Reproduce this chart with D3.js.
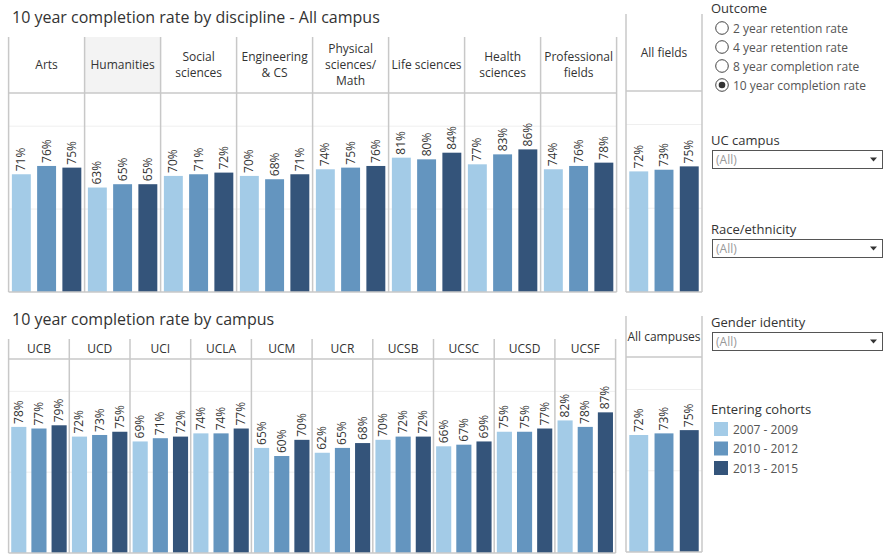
<html>
<head>
<script src="https://cdn.jsdelivr.net/npm/d3@7"></script>
<style>
body { margin: 0; background: #fff; }
text { font-family: "Open Sans", Lato, sans-serif; }
</style>
</head>
<body>
<svg></svg>
<script>

var width = 894;
var height = 557;

// data
var cohorts = ["2007 - 2009", "2010 - 2012", "2013 - 2015"];
var colors = ["#a3cbe7", "#6495bf", "#34547a"];

var disciplines = ["Arts", "Humanities", "Social sciences", "Engineering & CS", "Physical sciences/ Math", "Life sciences", "Health sciences", "Professional fields"];
var disciplineLines = [["Arts"], ["Humanities"], ["Social", "sciences"], ["Engineering", "& CS"], ["Physical", "sciences/", "Math"], ["Life sciences"], ["Health", "sciences"], ["Professional", "fields"]];
var disc0709 = [71, 63, 70, 70, 74, 81, 77, 74];
var disc1012 = [76, 65, 71, 68, 75, 80, 83, 76];
var disc1315 = [75, 65, 72, 71, 76, 84, 86, 78];
var allFields = [72, 73, 75];

var campuses = ["UCB", "UCD", "UCI", "UCLA", "UCM", "UCR", "UCSB", "UCSC", "UCSD", "UCSF"];
var camp0709 = [78, 72, 69, 74, 65, 62, 70, 66, 75, 82];
var camp1012 = [77, 73, 71, 74, 60, 65, 72, 67, 75, 78];
var camp1315 = [79, 75, 72, 77, 70, 68, 72, 69, 77, 87];
var allCampuses = [72, 73, 75];

var outcomes = ["2 year retention rate", "4 year retention rate", "8 year completion rate", "10 year completion rate"];
var filters = ["UC campus", "Race/ethnicity", "Gender identity"];

var lineColor = "#c8c8c8";
var gridColor = "#efefef";

var svg = d3.select("svg").attr("width", width).attr("height", height);

function rows(names, a, b, c) {
	return names.map(function(n, i) {
		return {name: n, values: [a[i], b[i], c[i]]};
	});
}

// draws one row of panels with header, bars and labels
function drawPanels(opt) {
	var g = svg.append("g");
	var x = d3.scaleBand().domain(opt.data.map(function(d) { return d.name; })).range(opt.xRange);
	var xi = d3.scaleBand().domain(cohorts).range([0, x.bandwidth()]).paddingInner(0.25).paddingOuter(0.13);
	var y = d3.scaleLinear().domain([0, 1.2]).range([opt.bottom, opt.headerBottom]);

	// gridlines
	g.selectAll(".grid").data([0.5, 1.0]).enter().append("line")
		.attr("x1", opt.xRange[0]).attr("x2", opt.xRange[1])
		.attr("y1", function(d) { return y(d); }).attr("y2", function(d) { return y(d); })
		.attr("stroke", gridColor).attr("stroke-width", 1);

	if (opt.highlight) {
		g.append("rect")
			.attr("x", x(opt.highlight)).attr("y", opt.top)
			.attr("width", x.bandwidth()).attr("height", opt.headerBottom - opt.top)
			.attr("fill", "#f3f3f3");
	}

	var panel = g.selectAll(".panel").data(opt.data).enter().append("g")
		.attr("transform", function(d) { return "translate(" + x(d.name) + ",0)"; });

	panel.selectAll("rect").data(function(d) { return d.values; }).enter().append("rect")
		.attr("x", function(d, i) { return xi(cohorts[i]); })
		.attr("y", function(d) { return y(d / 100); })
		.attr("width", xi.bandwidth())
		.attr("height", function(d) { return y(0) - y(d / 100); })
		.attr("fill", function(d, i) { return colors[i]; });

	panel.selectAll(".lbl").data(function(d) { return d.values; }).enter().append("text")
		.attr("transform", function(d, i) {
			return "translate(" + (xi(cohorts[i]) + xi.bandwidth() / 2 + 4) + "," + (y(d / 100) - 3) + ") rotate(-90)";
		})
		.attr("font-size", 12).attr("fill", "#333")
		.text(function(d) { return d + "%"; });

	// header labels
	panel.each(function(d, i) {
		var lines = opt.lines ? opt.lines[i] : [d.name];
		var cy = (opt.top + opt.headerBottom) / 2;
		var lh = 16;
		d3.select(this).selectAll(".hdr").data(lines).enter().append("text")
			.attr("x", x.bandwidth() / 2)
			.attr("y", function(t, j) { return cy + (j - (lines.length - 1) / 2) * lh + 4; })
			.attr("text-anchor", "middle").attr("font-size", 12).attr("fill", "#333")
			.text(function(t) { return t; });
	});

	// frame lines
	var edges = x.domain().map(function(n) { return x(n); }).concat([opt.xRange[1]]);
	g.selectAll(".sep").data(edges).enter().append("line")
		.attr("x1", function(d) { return d; }).attr("x2", function(d) { return d; })
		.attr("y1", opt.top).attr("y2", opt.bottom)
		.attr("stroke", lineColor).attr("stroke-width", 1.5);
	g.append("line").attr("x1", opt.xRange[0]).attr("x2", opt.xRange[1])
		.attr("y1", opt.headerBottom).attr("y2", opt.headerBottom)
		.attr("stroke", lineColor).attr("stroke-width", 1.5);
	g.append("line").attr("x1", opt.xRange[0]).attr("x2", opt.xRange[1])
		.attr("y1", opt.bottom).attr("y2", opt.bottom)
		.attr("stroke", lineColor).attr("stroke-width", 1.5);
}

// titles
svg.append("text").attr("x", 12).attr("y", 23).attr("font-size", 16).attr("fill", "#333")
	.text("10 year completion rate by discipline - All campus");
svg.append("text").attr("x", 12).attr("y", 325).attr("font-size", 16).attr("fill", "#333")
	.text("10 year completion rate by campus");

drawPanels({data: rows(disciplines, disc0709, disc1012, disc1315), lines: disciplineLines,
	xRange: [8.6, 616.6], top: 37, headerBottom: 93, bottom: 292, highlight: "Humanities"});
drawPanels({data: [{name: "All fields", values: allFields}],
	xRange: [626, 702], top: 14, headerBottom: 91, bottom: 292});

drawPanels({data: rows(campuses, camp0709, camp1012, camp1315),
	xRange: [8.6, 615.6], top: 339, headerBottom: 359, bottom: 553});
drawPanels({data: [{name: "All campuses", values: allCampuses}],
	xRange: [626, 702], top: 316, headerBottom: 357, bottom: 552});

// right side controls
var side = svg.append("g");
side.append("text").attr("x", 711).attr("y", 13).attr("font-size", 13).attr("fill", "#333").text("Outcome");
var radio = side.selectAll(".radio").data(outcomes).enter().append("g")
	.attr("transform", function(d, i) { return "translate(722," + (28 + i * 19) + ")"; });
radio.append("circle").attr("r", 6.3).attr("fill", "#fff").attr("stroke", "#444").attr("stroke-width", 1);
radio.filter(function(d, i) { return i === outcomes.length - 1; })
	.append("circle").attr("r", 3.3).attr("fill", "#333");
radio.append("text").attr("x", 11).attr("y", 4.5).attr("font-size", 12).attr("fill", "#555")
	.text(function(d) { return d; });

var filterY = [140, 229, 322];
var flt = side.selectAll(".flt").data(filters).enter().append("g")
	.attr("transform", function(d, i) { return "translate(711," + filterY[i] + ")"; });
flt.append("text").attr("y", 5).attr("font-size", 13).attr("fill", "#333").text(function(d) { return d; });
flt.append("rect").attr("x", 1.5).attr("y", 10.5).attr("width", 170).attr("height", 18)
	.attr("fill", "#fff").attr("stroke", "#555").attr("stroke-width", 1);
flt.append("text").attr("x", 5).attr("y", 24).attr("font-size", 12).attr("fill", "#999").text("(All)");
flt.append("path").attr("d", "M159,17.5 L166,17.5 L162.5,21.5 Z").attr("fill", "#333");

side.append("text").attr("x", 711).attr("y", 414).attr("font-size", 13).attr("fill", "#333").text("Entering cohorts");
var leg = side.selectAll(".leg").data(cohorts).enter().append("g")
	.attr("transform", function(d, i) { return "translate(714," + (422 + i * 19.5) + ")"; });
leg.append("rect").attr("width", 14).attr("height", 14).attr("fill", function(d, i) { return colors[i]; });
leg.append("text").attr("x", 19).attr("y", 11.5).attr("font-size", 12).attr("fill", "#555").text(function(d) { return d; });

</script>
</body>
</html>
